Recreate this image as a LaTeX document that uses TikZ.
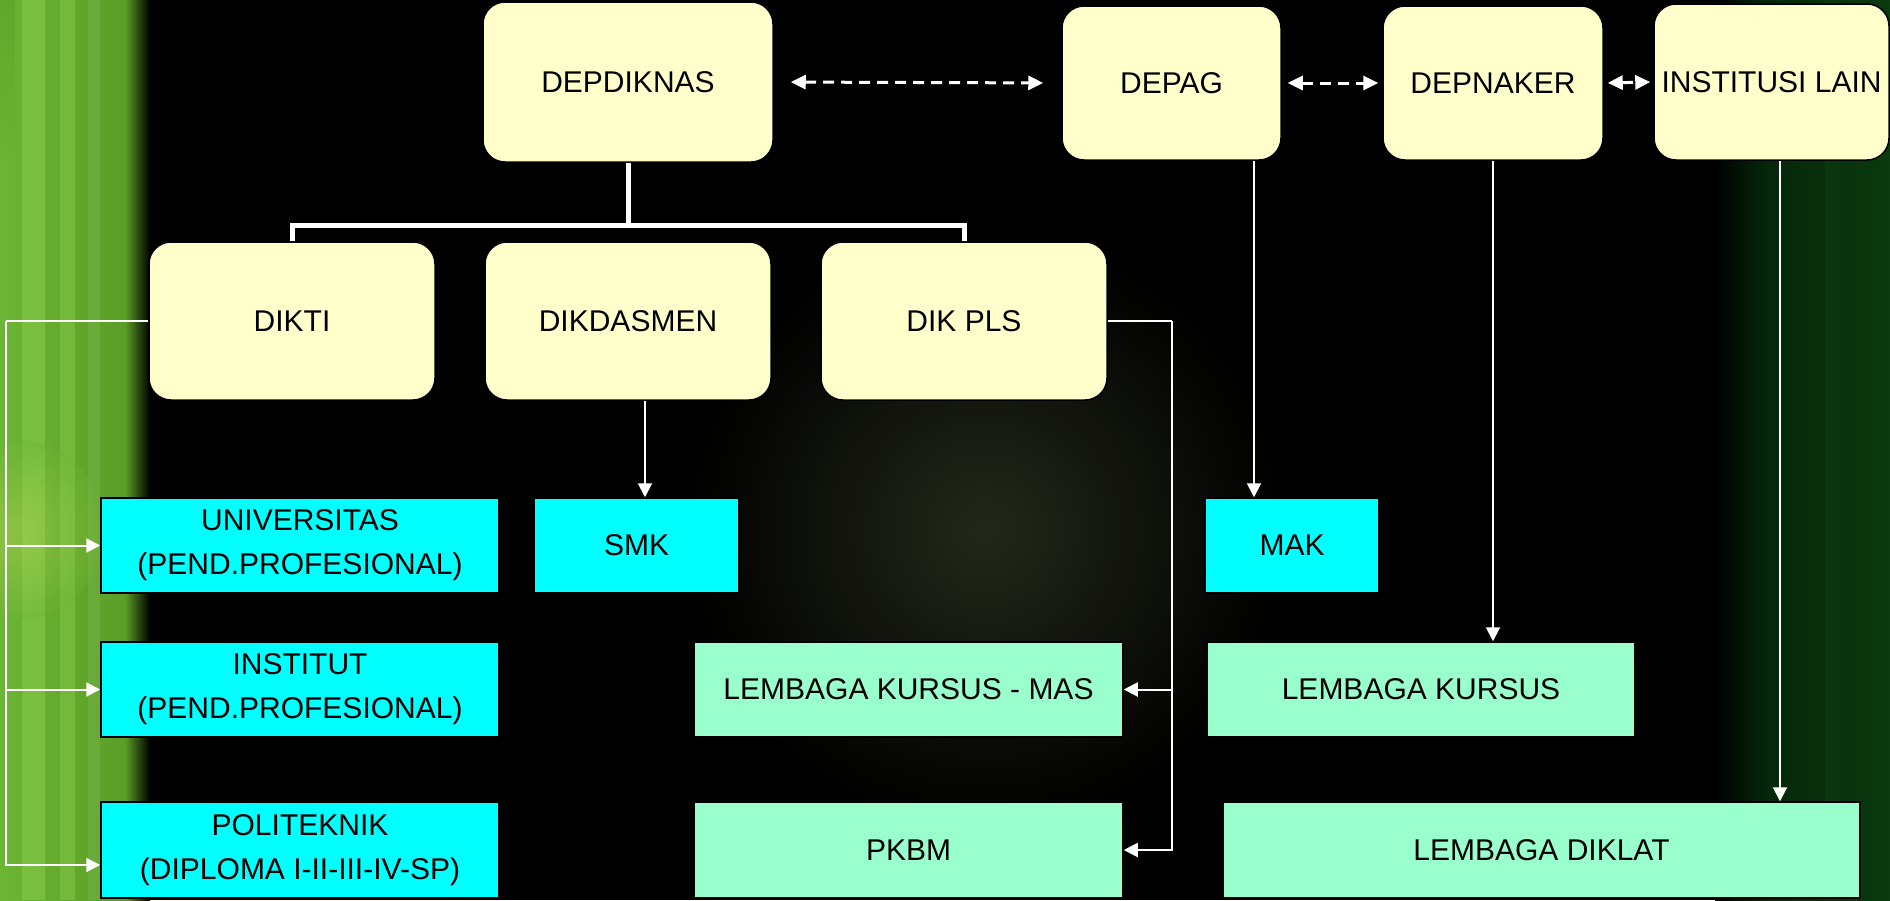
\documentclass[tikz,border=0pt]{standalone}
\usepackage{fontspec}
\setmainfont{Liberation Sans}
\usetikzlibrary{arrows.meta,shadings}
\definecolor{boxyellow}{HTML}{FFFFCC}
\definecolor{boxcyan}{HTML}{00FFFF}
\definecolor{boxmint}{HTML}{99FFCC}
\definecolor{lgA}{HTML}{6DB535}
\definecolor{lgB}{HTML}{86CB48}
\definecolor{lgC}{HTML}{5A9E26}
\definecolor{rgA}{HTML}{06260A}
\definecolor{rgB}{HTML}{0B3A0E}
\begin{document}
\begin{tikzpicture}[x=1pt,y=-1pt,
  base/.style={draw=black, line width=1.5pt, inner sep=0pt, align=center,
    font=\fontsize{30}{44}\selectfont, text=black},
  yb/.style={base, fill=boxyellow, rounded corners=22pt},
  cb/.style={base, fill=boxcyan},
  mb/.style={base, fill=boxmint},
  conn/.style={draw=white, line width=2pt},
  arr/.style={conn, -{Triangle[length=14pt,width=14pt]}},
  darr/.style={draw=white, line width=3pt, dash pattern=on 11pt off 7pt,
    {Triangle[length=15pt,width=14pt]}-{Triangle[length=15pt,width=14pt]}},
  bar/.style={draw=white, line width=5pt}]
% background
\useasboundingbox (0,0) rectangle (1890,900);
\fill[black] (0,0) rectangle (1890,900);
\shade[inner color={rgb,255:red,36;green,40;blue,26}, outer color=black] (985,530) circle (300);
% left green strip
\shade[left color=lgA, right color=lgC] (0,0) rectangle (125,900);
\shade[left color=lgC, right color=black] (125,0) rectangle (150,900);
\fill[lgB, opacity=0.6] (22,0) rectangle (45,900);
\fill[lgB, opacity=0.5] (60,0) rectangle (75,900);
\fill[white, opacity=0.08] (88,0) rectangle (100,900);
\shade[top color=lgC, bottom color=lgA, opacity=0.6] (0,0) rectangle (15,170);
\shade[inner color={rgb,255:red,215;green,230;blue,110}, outer color=lgA, opacity=0.3] (15,530) circle (90);
% right green strip
\shade[left color=black, right color=rgA] (1715,0) rectangle (1765,900);
\shade[left color=rgA, right color=rgB] (1765,0) rectangle (1890,900);
\fill[rgB, opacity=0.7] (1825,0) rectangle (1840,900);
% top row
\node[yb, minimum width=290pt, minimum height=160pt] (depdiknas) at (628,82) {DEPDIKNAS};
\node[yb, minimum width=219pt, minimum height=154pt] (depag) at (1171.5,83) {DEPAG};
\node[yb, minimum width=220pt, minimum height=154pt] (depnaker) at (1493,83) {DEPNAKER};
\node[yb, minimum width=235pt, minimum height=156pt] (inst) at (1771.5,82) {INSTITUSI LAIN};
% second row
\node[yb, minimum width=286pt, minimum height=158pt] (dikti) at (292,321) {DIKTI};
\node[yb, minimum width=286pt, minimum height=158pt] (dikdasmen) at (628,321) {DIKDASMEN};
\node[yb, minimum width=286pt, minimum height=158pt] (dikpls) at (964,321) {DIK PLS};
% cyan boxes
\node[cb, minimum width=398pt, minimum height=95pt] (univ) at (300,545.5) {UNIVERSITAS\\(PEND.PROFESIONAL)};
\node[cb, minimum width=205pt, minimum height=95pt] (smk) at (636.5,545.5) {SMK};
\node[cb, minimum width=174pt, minimum height=95pt] (mak) at (1292,545.5) {MAK};
\node[cb, minimum width=398pt, minimum height=95pt] (institut) at (300,689.5) {INSTITUT\\(PEND.PROFESIONAL)};
\node[cb, minimum width=398pt, minimum height=96pt] (poli) at (300,850) {POLITEKNIK\\(DIPLOMA I-II-III-IV-SP)};
% mint boxes
\node[mb, minimum width=429pt, minimum height=95pt] (lkmas) at (908.5,689.5) {LEMBAGA KURSUS - MAS};
\node[mb, minimum width=428pt, minimum height=95pt] (lk) at (1421,689.5) {LEMBAGA KURSUS};
\node[mb, minimum width=429pt, minimum height=96pt] (pkbm) at (908.5,850) {PKBM};
\node[mb, minimum width=637pt, minimum height=96pt] (ld) at (1541.5,850) {LEMBAGA DIKLAT};
% dashed links
\draw[darr, shorten <=17pt, shorten >=18pt] (depdiknas.east) -- (depag.west);
\draw[darr, shorten <=6pt, shorten >=4pt] (depag.east) -- (depnaker.west);
\draw[darr, shorten <=4pt, shorten >=3pt] (depnaker.east) -- (inst.west);
% tree bracket
\coordinate (bj) at (628,225);
\draw[bar] (depdiknas.south) -- (bj);
\draw[bar] (dikti.north) -- (dikti.north |- bj) -- (dikpls.north |- bj) -- (dikpls.north);
% DIKTI branches
\coordinate (lx) at (6,321);
\draw[conn] (dikti.west) -- (lx);
\draw[arr] (lx) |- (univ.west);
\draw[arr] (lx) |- (institut.west);
\draw[arr] (lx) |- ([yshift=-15pt]poli.west);
% DIKDASMEN -> SMK
\draw[arr] ([xshift=17pt]dikdasmen.south) -- ([xshift=8.5pt]smk.north);
% DIK PLS branches
\coordinate (rx) at (1172,321);
\draw[conn] (dikpls.east) -- (rx);
\draw[arr] (rx) |- (lkmas.east);
\draw[arr] (rx) |- (pkbm.east);
% vertical links
\draw[arr] ([xshift=82.5pt]depag.south) -- ([xshift=-38pt]mak.north);
\draw[arr] (depnaker.south) -- ([xshift=72pt]lk.north);
\draw[arr] ([xshift=8.5pt]inst.south) -- ([xshift=238.5pt]ld.north);
\end{tikzpicture}
\end{document}
